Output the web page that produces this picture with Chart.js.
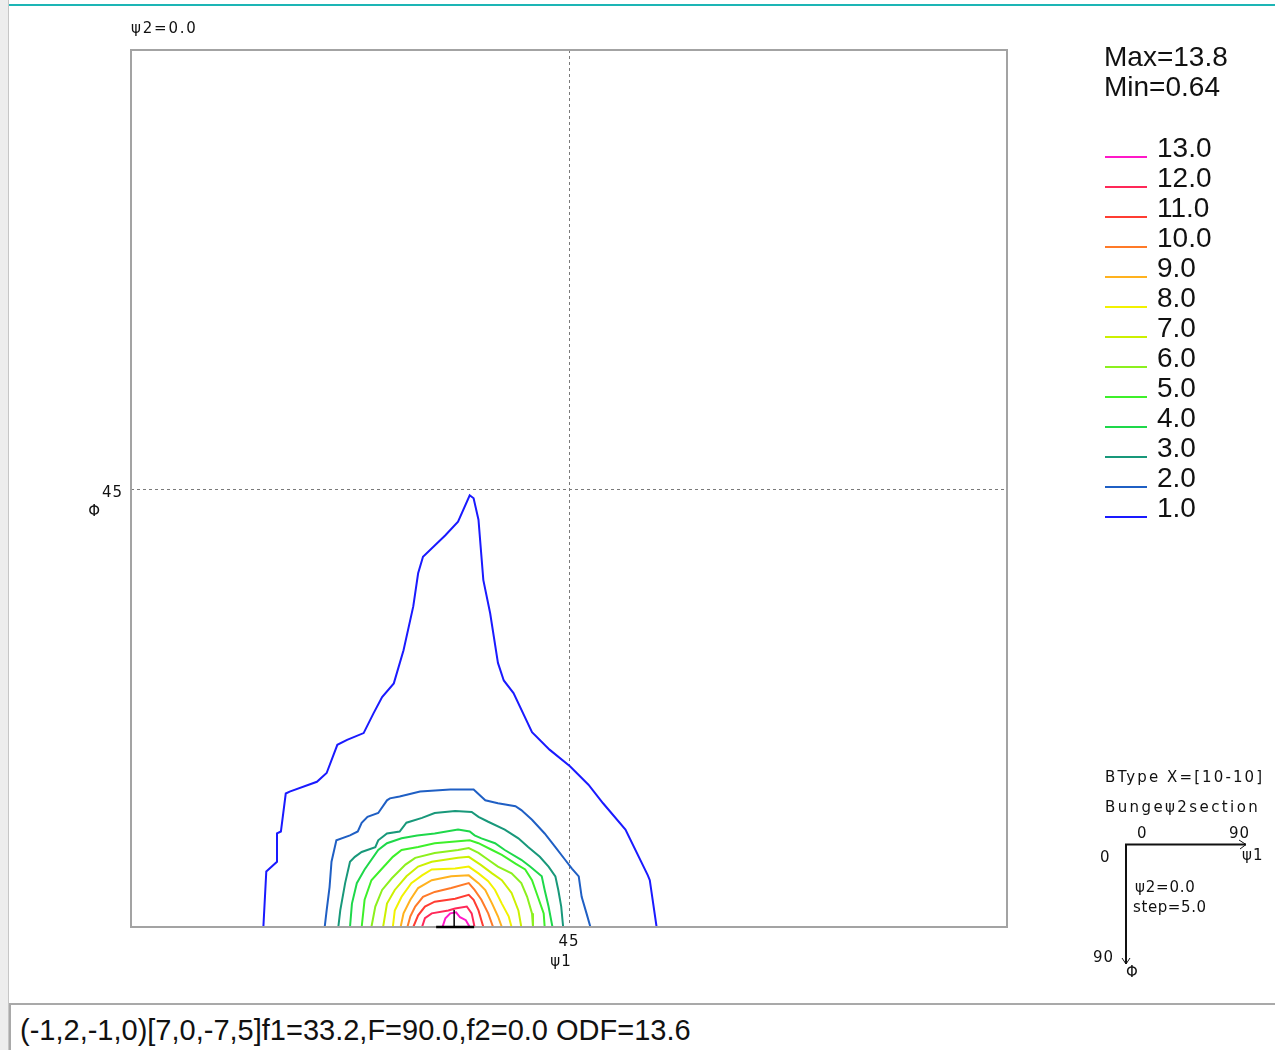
<!DOCTYPE html>
<html>
<head>
<meta charset="utf-8">
<script src="https://cdn.jsdelivr.net/npm/chart.js@4.4.1/dist/chart.umd.min.js"></script>
<style>
  body { margin: 0; background: #fff; width: 1275px; height: 1050px; overflow: hidden; position: relative; }
  #wrap { position: absolute; left: 0; top: 0; width: 1275px; height: 1000px; }
  #leftStrip { position: absolute; left: 0; top: 0; width: 8px; height: 1050px; background: #ededed; border-right: 1px solid #c6c6c6; }
  #topLine { position: absolute; left: 9px; top: 4px; width: 1266px; height: 2px; background: #1db5b5; }
  #status { position: absolute; left: 9px; top: 1003px; width: 1266px; height: 47px; border-top: 2px solid #a9a9a9; border-left: 2px solid #a9a9a9;
            font-family: "Liberation Sans", Arial, sans-serif; font-size: 29px; color: #111; line-height: 50px; padding-left: 9px; box-sizing: border-box; }
</style>
</head>
<body>
<div id="leftStrip"></div>
<div id="topLine"></div>
<div id="wrap"><canvas id="odf" width="1275" height="1000"></canvas></div>
<div id="status">(-1,2,-1,0)[7,0,-7,5]f1=33.2,F=90.0,f2=0.0 ODF=13.6</div>
<script>
// ---------------- Data (ψ1, Φ in degrees) ----------------
const levels = [1, 2, 3, 4, 5, 6, 7, 8, 9, 10, 11, 12, 13];
const levelColors = ["#1a1aff", "#1f5fc4", "#18987a", "#1ed84a", "#3ef02a", "#8cf01e", "#ccf000",
                     "#f2f200", "#ffb21e", "#ff7a28", "#ff3c32", "#ff2858", "#ff18c8"];
const maxValue = 13.8;
const minValue = 0.64;
const psi2 = 0.0;
const stepSize = 5.0;
const markerPsi1 = 33.2;
const markerPhi = 90.0;
const gridTicks = [45];

const contour1 = [[13.6,90.0],[13.9,84.3],[15.0,83.3],[15.0,80.4],[15.4,80.2],[15.9,76.3],[16.3,76.1],[19.1,75.1],[20.1,74.2],
  [21.2,71.3],[22.2,70.8],[23.9,70.1],[24.9,68.1],[25.8,66.4],[27.0,65.0],[28.0,61.6],[29.0,57.1],[29.5,53.7],[30.0,52.0],
  [32.3,49.8],[33.6,48.4],[34.8,45.7],[35.2,46.0],[35.7,48.2],[36.2,54.4],[36.9,57.8],[37.7,62.9],[38.3,64.7],[39.3,66.0],
  [41.2,70.0],[43.0,71.8],[45.1,73.5],[47.0,75.4],[48.5,77.3],[50.8,80.0],[53.1,84.7],[53.3,85.2],[54.0,90.0]];
const contour2 = [[19.9,90.0],[20.1,88.3],[20.4,85.9],[20.6,83.3],[21.1,81.1],[22.5,80.6],[23.3,80.2],[23.7,79.3],[24.3,78.7],
  [25.4,78.3],[26.3,77.0],[26.6,76.8],[27.6,76.6],[29.7,76.1],[32.8,75.9],[35.2,75.9],[36.4,77.0],[37.7,77.3],[39.5,77.6],
  [40.1,78.0],[41.2,79.0],[42.5,80.4],[43.6,81.8],[44.6,83.1],[45.3,84.0],[46.0,84.8],[46.3,86.9],[46.8,88.6],[47.2,90.0]];
const contour3 = [[21.3,90.0],[21.5,88.3],[22.0,85.5],[22.5,83.3],[23.0,82.8],[23.7,82.3],[25.1,81.8],[25.4,81.1],[26.3,80.4],
  [27.6,80.2],[28.3,79.3],[29.9,78.8],[31.2,78.3],[33.3,78.1],[35.0,78.2],[35.7,78.7],[36.7,79.2],[38.4,80.0],[39.8,80.9],
  [40.8,81.8],[42.0,82.8],[42.9,83.8],[43.6,84.8],[43.9,86.2],[44.2,87.9],[44.4,90.0]];
const contour4 = [[22.5,90.0],[22.7,87.6],[23.2,85.5],[24.0,84.1],[25.4,82.1],[26.3,81.4],[27.8,80.9],[29.4,80.6],[31.2,80.4],
  [33.6,80.0],[34.8,80.2],[35.3,80.6],[36.0,80.9],[37.4,81.4],[38.4,82.1],[40.1,83.1],[41.0,83.8],[42.2,84.8],[42.5,86.2],
  [42.9,87.9],[43.3,90.0]];
const contour5 = [[23.7,90.0],[24.0,87.2],[24.7,85.2],[25.8,84.0],[26.9,82.8],[27.8,82.1],[29.5,81.8],[31.2,81.4],[33.6,81.2],
  [34.8,81.1],[35.7,81.4],[37.1,82.1],[38.1,82.6],[39.5,83.5],[40.5,84.1],[41.2,85.2],[41.8,86.9],[42.4,88.6],[42.5,90.0]];
const contour6 = [[24.7,90.0],[25.1,87.9],[25.8,86.2],[26.8,85.0],[28.2,83.6],[29.2,82.9],[31.2,82.4],[33.6,82.1],[34.7,81.9],
  [35.7,82.4],[36.7,83.1],[37.7,83.8],[39.1,84.5],[40.1,85.5],[40.7,86.9],[41.2,88.6],[41.3,90.0]];
const contour7 = [[25.9,90.0],[26.3,87.6],[27.1,86.2],[28.3,84.8],[29.5,83.8],[30.9,83.3],[33.6,82.9],[34.7,82.8],[35.9,83.6],
  [37.1,84.5],[38.1,85.2],[39.1,86.5],[39.8,88.3],[40.1,90.0]];
const contour8 = [[26.9,90.0],[27.1,88.3],[27.8,86.9],[28.8,85.5],[29.9,84.7],[30.9,84.1],[33.3,84.0],[34.7,83.8],[35.7,84.5],
  [36.7,85.3],[37.4,86.2],[38.1,87.6],[38.8,88.9],[39.1,90.0]];
const contour9 = [[27.7,90.0],[28.0,88.6],[28.7,87.2],[29.5,86.0],[30.9,85.2],[32.9,84.8],[34.7,84.7],[35.7,85.5],[36.4,86.2],
  [37.1,87.6],[37.7,88.9],[38.1,90.0]];
const contour10 = [[28.4,90.0],[28.7,88.9],[29.2,87.9],[30.0,86.9],[31.2,86.4],[32.9,86.0],[34.7,85.5],[35.3,86.2],[36.0,87.2],
  [36.7,88.6],[37.2,90.0]];
const contour11 = [[29.0,90.0],[29.5,88.8],[30.2,87.9],[31.2,87.4],[33.3,87.1],[34.7,86.7],[35.2,87.2],[35.7,88.3],[36.2,90.0]];
const contour12 = [[29.9,90.0],[30.2,89.1],[30.9,88.6],[32.6,88.3],[33.3,88.1],[34.5,87.9],[35.0,88.6],[35.3,90.0]];
const contour13 = [[32.0,90.0],[32.3,89.1],[32.8,88.6],[33.4,88.5],[33.8,89.0],[34.4,89.3],[34.8,90.0]];
const contours = [contour1, contour2, contour3, contour4, contour5, contour6, contour7,
                  contour8, contour9, contour10, contour11, contour12, contour13];

// ---------------- Decorations ----------------
const smallFont = '15px "DejaVu Sans", sans-serif';
const bigFont = '28px "Liberation Sans", Arial, sans-serif';

function txt(ctx, s, x, y, font, spacing) {
  ctx.font = font;
  ctx.letterSpacing = (spacing || 0) + "px";
  ctx.fillText(s, x, y);
  ctx.letterSpacing = "0px";
}

const odfDecor = {
  id: "odfDecor",
  beforeDatasetsDraw(chart) {
    const { ctx, chartArea: a, scales: { x, y } } = chart;
    ctx.save();
    ctx.strokeStyle = "#7a7a7a";
    ctx.lineWidth = 1;
    ctx.setLineDash([3, 3]);
    gridTicks.forEach((t) => {
      const px = Math.round(x.getPixelForValue(t)) + 0.5;
      const py = Math.round(y.getPixelForValue(t)) + 0.5;
      ctx.beginPath();
      ctx.moveTo(px, a.top); ctx.lineTo(px, a.bottom);
      ctx.moveTo(a.left, py); ctx.lineTo(a.right, py);
      ctx.stroke();
    });
    ctx.restore();
  },
  afterDraw(chart) {
    const { ctx, chartArea: a, scales: { x, y } } = chart;
    ctx.save();
    // frame
    ctx.strokeStyle = "#a3a3a3";
    ctx.lineWidth = 2;
    ctx.strokeRect(a.left, a.top, a.right - a.left, a.bottom - a.top);

    // marker
    const mx = x.getPixelForValue(markerPsi1), my = y.getPixelForValue(markerPhi);
    ctx.strokeStyle = "#000";
    ctx.lineWidth = 1.5;
    ctx.beginPath(); ctx.moveTo(mx, my); ctx.lineTo(mx, my - 17); ctx.stroke();
    ctx.lineWidth = 2.5;
    ctx.beginPath(); ctx.moveTo(mx - 18, my); ctx.lineTo(mx + 20, my); ctx.stroke();

    ctx.fillStyle = "#111";
    ctx.textBaseline = "alphabetic";
    // titles / axis labels
    txt(ctx, "ψ2=" + psi2.toFixed(1), a.left, 33, smallFont, 1.8);
    gridTicks.forEach((t) => {
      const py = y.getPixelForValue(t), px = x.getPixelForValue(t);
      ctx.textAlign = "right";
      txt(ctx, String(t), a.left - 8, py + 8, smallFont, 1);
      txt(ctx, "Φ", a.left - 31, py + 27, smallFont, 0);
      ctx.textAlign = "center";
      txt(ctx, String(t), px, a.bottom + 19, smallFont, 1);
      txt(ctx, "ψ1", px - 8, a.bottom + 39, smallFont, 1);
    });
    ctx.textAlign = "left";

    // legend
    txt(ctx, "Max=" + maxValue.toFixed(1), 1104, 66, bigFont, 0);
    txt(ctx, "Min=" + minValue.toFixed(2), 1104, 96, bigFont, 0);
    for (let i = levels.length - 1; i >= 0; i--) {
      const row = levels.length - 1 - i;
      const ly = 157 + row * 30;
      ctx.strokeStyle = levelColors[i];
      ctx.lineWidth = 2;
      ctx.beginPath(); ctx.moveTo(1105, ly); ctx.lineTo(1147, ly); ctx.stroke();
      txt(ctx, levels[i].toFixed(1), 1157, ly, bigFont, 0);
    }

    // section key
    txt(ctx, "BType X=[10-10]", 1105, 782, smallFont, 2.1);
    txt(ctx, "Bungeψ2section", 1105, 812, smallFont, 2.4);
    txt(ctx, "0", 1137, 838, smallFont, 1);
    txt(ctx, "90", 1229, 838, smallFont, 1);
    txt(ctx, "0", 1100, 862, smallFont, 1);
    txt(ctx, "ψ1", 1242, 860, smallFont, 1);
    txt(ctx, "ψ2=" + psi2.toFixed(1), 1135, 892, smallFont, 0.8);
    txt(ctx, "step=" + stepSize.toFixed(1), 1133, 912, smallFont, 0.6);
    txt(ctx, "90", 1093, 962, smallFont, 1);
    txt(ctx, "Φ", 1126, 977, smallFont, 0);
    ctx.strokeStyle = "#111";
    ctx.lineWidth = 2;
    ctx.beginPath();
    ctx.moveTo(1246, 844.5); ctx.lineTo(1126, 844.5); ctx.lineTo(1126, 964);
    ctx.stroke();
    ctx.lineWidth = 1;
    ctx.beginPath();
    ctx.moveTo(1239, 840); ctx.lineTo(1246, 844.5); ctx.lineTo(1240, 849);
    ctx.moveTo(1122, 958); ctx.lineTo(1126, 964); ctx.lineTo(1130, 958);
    ctx.stroke();
    ctx.restore();
  },
};

// ---------------- Chart ----------------
const chart = new Chart(document.getElementById("odf"), {
  type: "scatter",
  data: {
    datasets: contours.map((c, i) => ({
      label: levels[i].toFixed(1),
      data: c.map((p) => ({ x: p[0], y: p[1] })),
      showLine: true,
      borderColor: levelColors[i],
      borderWidth: 2,
      pointRadius: 0,
      tension: 0,
      fill: false,
    })),
  },
  options: {
    responsive: false,
    animation: false,
    layout: { padding: { left: 131, top: 50, right: 268, bottom: 73 } },
    plugins: { legend: { display: false }, tooltip: { enabled: false } },
    scales: {
      x: { type: "linear", min: 0, max: 90, display: false },
      y: { type: "linear", min: 0, max: 90, reverse: true, display: false },
    },
  },
  plugins: [odfDecor],
});
</script>
</body>
</html>
